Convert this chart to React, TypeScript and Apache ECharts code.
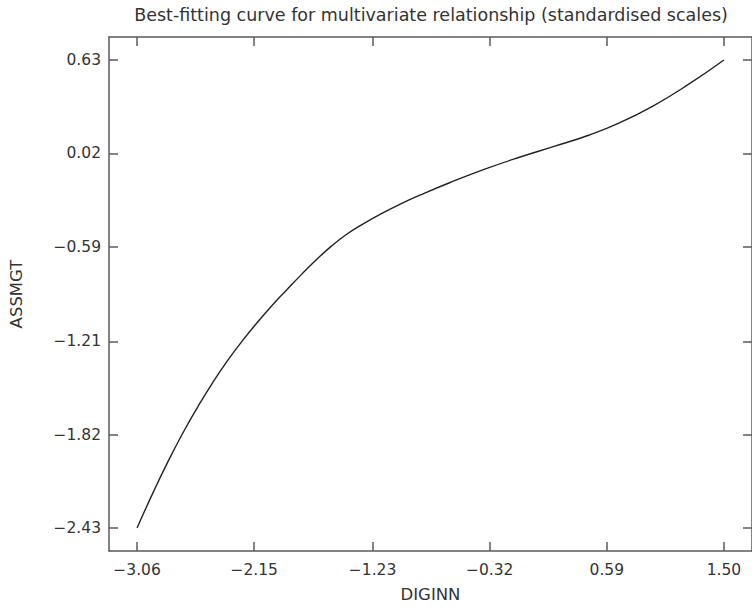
import React, { useEffect, useRef } from "react";
import * as echarts from "echarts";

const xTicks = [-3.06, -2.15, -1.23, -0.32, 0.59, 1.5];
const yTicks = [-2.43, -1.82, -1.21, -0.59, 0.02, 0.63];

const curveX = [
  -3.06, -2.933, -2.818, -2.703, -2.587, -2.472, -2.357, -2.241, -2.126,
  -2.011, -1.896, -1.78, -1.665, -1.55, -1.434, -1.319, -1.165, -1.012,
  -0.858, -0.627, -0.358, -0.089, 0.18, 0.449, 0.679, 0.948, 1.218, 1.5,
];
const curveY = [
  -2.43, -2.194, -1.993, -1.807, -1.636, -1.479, -1.336, -1.205, -1.086,
  -0.975, -0.872, -0.77, -0.675, -0.587, -0.511, -0.449, -0.376, -0.311,
  -0.252, -0.171, -0.084, -0.006, 0.065, 0.138, 0.215, 0.329, 0.467, 0.63,
];

const title = "Best-fitting curve for multivariate relationship (standardised scales)";
const xName = "DIGINN";
const yName = "ASSMGT";

const fmt = (v: number) => v.toFixed(2).replace("-", "\u2212");

export default function App() {
  const ref = useRef<HTMLDivElement>(null);
  useEffect(() => {
    if (!ref.current) return;
    const chart = echarts.init(ref.current, null, { renderer: "svg" });
    const xPad = 0.218;
    const yPad = 0.1504;
    const xMin = xTicks[0] - xPad;
    const xMax = xTicks[xTicks.length - 1] + xPad;
    const yMin = yTicks[0] - yPad;
    const yMax = yTicks[yTicks.length - 1] + yPad;
    const font = "'DejaVu Sans', sans-serif";
    const lineCol = "#5a5a5a";
    const textCol = "#333";
    const tick = (vals: number[]) => ({
      show: true,
      inside: true,
      length: 9,
      customValues: vals,
      lineStyle: { color: lineCol, width: 1.5 },
    });
    const axisLine = { show: true, onZero: false, lineStyle: { color: lineCol, width: 1.5 } };
    chart.setOption({
      animation: false,
      backgroundColor: "#fff",
      title: {
        text: title,
        left: 426,
        top: 1,
        textAlign: "center",
        textStyle: { fontFamily: font, fontSize: 17.5, fontWeight: "normal", color: textCol },
      },
      grid: { left: 105, top: 37, width: 650, height: 514, containLabel: false },
      xAxis: [
        {
          type: "value",
          position: "bottom",
          min: xMin,
          max: xMax,
          axisLine,
          axisTick: tick(xTicks),
          axisLabel: {
            show: true,
            customValues: xTicks,
            formatter: fmt,
            margin: 11,
            fontFamily: font,
            fontSize: 15.5,
            color: textCol,
          },
          splitLine: { show: false },
          name: xName,
          nameLocation: "middle",
          nameGap: 35,
          nameTextStyle: { fontFamily: font, fontSize: 16.5, color: textCol },
        },
        {
          type: "value",
          position: "top",
          min: xMin,
          max: xMax,
          axisLine,
          axisTick: tick(xTicks),
          axisLabel: { show: false },
          splitLine: { show: false },
        },
      ],
      yAxis: [
        {
          type: "value",
          position: "left",
          min: yMin,
          max: yMax,
          axisLine,
          axisTick: tick(yTicks),
          axisLabel: {
            show: true,
            customValues: yTicks,
            formatter: fmt,
            margin: 8,
            fontFamily: font,
            fontSize: 15.5,
            color: textCol,
          },
          splitLine: { show: false },
          name: yName,
          nameLocation: "middle",
          nameGap: 84,
          nameTextStyle: { fontFamily: font, fontSize: 16.5, color: textCol },
        },
        {
          type: "value",
          position: "right",
          min: yMin,
          max: yMax,
          axisLine,
          axisTick: tick(yTicks),
          axisLabel: { show: false },
          splitLine: { show: false },
        },
      ],
      series: [
        {
          type: "line",
          xAxisIndex: 0,
          yAxisIndex: 0,
          data: curveX.map((x, i) => [x, curveY[i]]),
          smooth: 0.5,
          showSymbol: false,
          symbol: "none",
          lineStyle: { color: "#222", width: 1.4 },
        },
      ],
    });
    return () => chart.dispose();
  }, []);
  return (
    <div
      ref={ref}
      style={{ position: "fixed", left: 0, top: 0, width: 752, height: 610, overflow: "hidden" }}
    />
  );
}
